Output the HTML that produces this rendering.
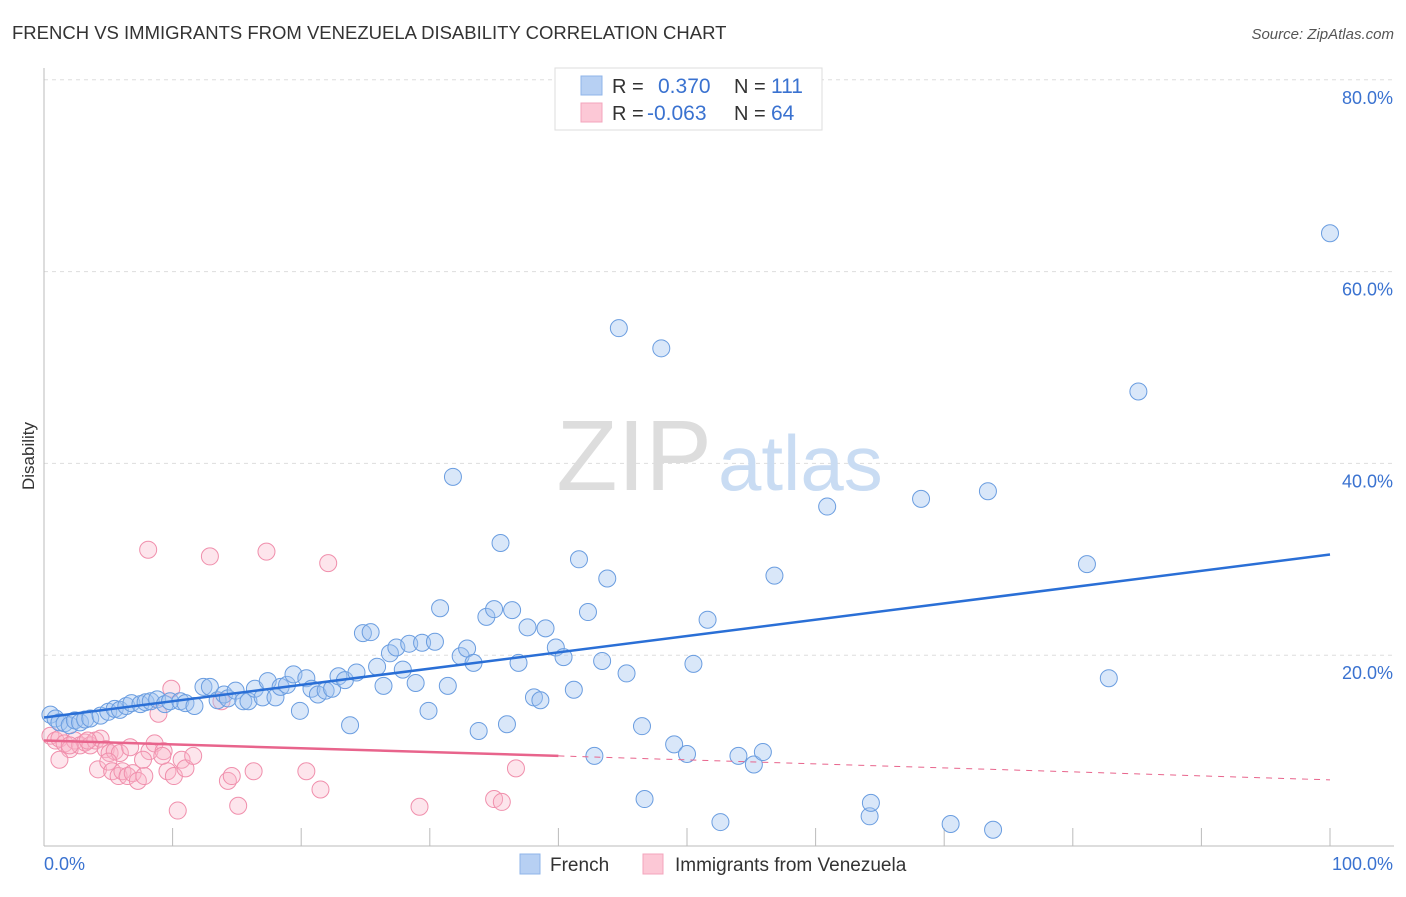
<!DOCTYPE html>
<html><head><meta charset="utf-8"><style>
body{margin:0;background:#fff;font-family:"Liberation Sans",sans-serif;}
svg text{font-family:"Liberation Sans",sans-serif;}
</style></head><body>
<svg id="c" width="1406" height="892" xmlns="http://www.w3.org/2000/svg">
<text x="12" y="39" font-size="18.5" fill="#333">FRENCH VS IMMIGRANTS FROM VENEZUELA DISABILITY CORRELATION CHART</text>
<text x="1394" y="39" font-size="15" fill="#555" font-style="italic" text-anchor="end">Source: ZipAtlas.com</text>
<text transform="translate(34,456) rotate(-90)" font-size="17" fill="#333" text-anchor="middle">Disability</text>
<g id="grid"></g>
<text x="712" y="490" font-size="100" fill="#ddd" text-anchor="end" font-family="Liberation Serif">ZIP</text>
<text x="718" y="490" font-size="78" fill="#c9dcf3">atlas</text>
<g id="pts"></g>
<g id="lines"></g>
<g>
<rect x="555" y="68" width="267" height="62" fill="#fff" stroke="#ddd"/>
<rect x="581" y="76" width="21" height="19" fill="#b7d0f3" stroke="#8fb4ea"/>
<rect x="581" y="103" width="21" height="19" fill="#fcc8d6" stroke="#f3a5bc"/>
<text x="612" y="93" font-size="20" fill="#333">R = </text><text x="658" y="93" font-size="21" fill="#3a72d0">0.370</text>
<text x="734" y="93" font-size="20" fill="#333">N = </text><text x="771" y="93" font-size="21" fill="#3a72d0">111</text>
<text x="612" y="120" font-size="20" fill="#333">R = </text><text x="647" y="120" font-size="21" fill="#3a72d0">-0.063</text>
<text x="734" y="120" font-size="20" fill="#333">N = </text><text x="771" y="120" font-size="21" fill="#3a72d0">64</text>
</g>
<g>
<rect x="520" y="854" width="20" height="20" fill="#b7d0f3" stroke="#8fb4ea"/>
<text x="550" y="871" font-size="19" fill="#333">French</text>
<rect x="643" y="854" width="20" height="20" fill="#fcc8d6" stroke="#f3a5bc"/>
<text x="675" y="871" font-size="19" fill="#333">Immigrants from Venezuela</text>
</g>
</svg>
<script>
const xTicks=[0,10,20,30,40,50,60,70,80,90,100];
const yTicks=[20,40,60,80];
const yTickLabels=["20.0%","40.0%","60.0%","80.0%"];
const xLabels=["0.0%","100.0%"];
const frenchX=[0.5,0.9,1.2,1.6,2,2.4,2.8,3.2,3.6,4.4,5,5.5,5.9,6.4,6.8,7.5,7.9,8.3,8.8,9.4,9.8,10.6,11,11.7,12.4,12.9,13.5,14,14.3,14.9,15.5,15.9,16.4,17,17.4,18,18.4,18.9,19.4,19.9,20.4,20.8,21.3,21.9,22.4,22.9,23.4,23.8,24.3,24.8,25.4,25.9,26.4,26.9,27.4,27.9,28.4,28.9,29.4,29.9,30.4,30.8,31.4,31.8,32.4,32.9,33.4,33.8,34.4,35,35.5,36,36.4,36.9,37.6,38.1,38.6,39,39.8,40.4,41.2,41.6,42.3,42.8,43.4,43.8,44.7,45.3,46.5,46.7,48,49,50,50.5,51.6,52.6,54,55.2,55.9,56.8,60.9,64.2,64.3,68.2,70.5,73.4,73.8,81.1,82.8,85.1,100];
const frenchY=[13.8,13.4,13,12.9,12.7,13.2,13,13.3,13.4,13.7,14.1,14.4,14.3,14.7,15,14.9,15.1,15.2,15.4,14.9,15.2,15.2,15,14.7,16.7,16.7,15.3,15.9,15.5,16.3,15.2,15.2,16.5,15.6,17.3,15.6,16.7,16.9,18,14.2,17.6,16.5,15.9,16.3,16.5,17.8,17.4,12.7,18.2,22.3,22.4,18.8,16.8,20.2,20.8,18.5,21.2,17.1,21.3,14.2,21.4,24.9,16.8,38.6,19.9,20.7,19.2,12.1,24,24.8,31.7,12.8,24.7,19.2,22.9,15.6,15.3,22.8,20.8,19.8,16.4,30,24.5,9.5,19.4,28,54.1,18.1,12.6,5,52,10.7,9.7,19.1,23.7,2.6,9.5,8.6,9.9,28.3,35.5,3.2,4.6,36.3,2.4,37.1,1.8,29.5,17.6,47.5,64];
const venX=[0.5,0.9,1.2,1.6,2,2.4,2.8,3.2,3.6,4,4.4,4.8,5.1,5.5,5.9,4.2,5,5.3,5.8,6.1,6.5,6.9,7.3,7.8,8.1,8.2,8.6,8.9,9.3,9.6,9.9,10.1,10.4,10.7,11,11.6,12.9,13.8,14.3,14.6,15.1,16.3,17.3,20.4,21.5,22.1,29.2,35,35.6,36.7,1.2,2,3.4,6.7,7.7,9.2];
const venY=[11.6,11.1,11.3,10.8,10.2,11.1,10.6,10.9,10.6,11.1,11.3,10.2,9.8,10,9.8,8.1,8.9,7.9,7.4,7.9,7.4,7.7,6.9,7.4,31,10,10.8,13.9,10,7.9,16.5,7.4,3.8,9.1,8.2,9.5,30.3,15.2,6.9,7.4,4.3,7.9,30.8,7.9,6,29.6,4.2,5,4.7,8.2,9.1,10.6,11.1,10.4,9.1,9.5];
const x0=44,x1=1330,yBase=847,yPer=9.59;
const X=v=>x0+(v/100)*(x1-x0);
const Y=v=>yBase-v*yPer;
const NS="http://www.w3.org/2000/svg";
function mk(tag,attrs,parent){const e=document.createElementNS(NS,tag);for(const k in attrs)e.setAttribute(k,attrs[k]);parent.appendChild(e);return e;}
const grid=document.getElementById('grid');
yTicks.forEach((t,i)=>{
 const l=mk('line',{x1:x0,x2:1394,y1:Y(t),y2:Y(t),stroke:'#ddd','stroke-dasharray':'4,4'},grid);
 
 
 const tx=mk('text',{x:1393,y:Y(t)+24,'font-size':18,fill:'#3a72d0','text-anchor':'end'},grid);
 tx.textContent=yTickLabels[i];
 
 
});
const ax=mk('line',{x1:x0,x2:1394,y1:846,y2:846,stroke:'#bbb'},grid);


const ay=mk('line',{x1:x0,x2:x0,y1:68,y2:846,stroke:'#bbb'},grid);


xTicks.forEach(t=>{
 const l=mk('line',{x1:X(t),x2:X(t),y1:828,y2:846,stroke:'#bbb'},grid);
 
 
});
[[0,'start',44],[100,'end',1393]].forEach((a,i)=>{
 const tx=mk('text',{x:a[2],y:870,'font-size':18,fill:'#3a72d0','text-anchor':a[1]},grid);
 tx.textContent=xLabels[i];
 
 
});
const pts=document.getElementById('pts');
venX.forEach((v,i)=>{
 const c=mk('circle',{cx:X(v),cy:Y(venY[i]),r:8.5,fill:'rgba(249,180,200,0.35)',stroke:'#f08fac','stroke-width':1},pts);
 
 
});
frenchX.forEach((v,i)=>{
 const c=mk('circle',{cx:X(v),cy:Y(frenchY[i]),r:8.5,fill:'rgba(160,195,240,0.4)',stroke:'#6a9de0','stroke-width':1},pts);
 
 
});
const lines=document.getElementById('lines');
const bl=mk('line',{x1:X(0),y1:Y(13.5),x2:X(100),y2:Y(30.5),stroke:'#2a6fd6','stroke-width':2.5},lines);


const pl=mk('line',{x1:X(0),y1:Y(11.1),x2:X(40),y2:Y(9.5),stroke:'#e8648c','stroke-width':2.5},lines);


const pd=mk('line',{x1:X(40),y1:Y(9.5),x2:X(100),y2:Y(7),stroke:'#e8648c','stroke-width':1,'stroke-dasharray':'6,6'},lines);


</script>
</body></html>
